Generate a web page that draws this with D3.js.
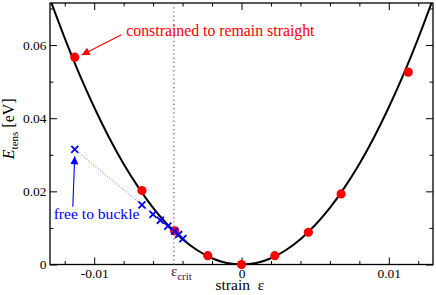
<!DOCTYPE html>
<html>
<head>
<meta charset="utf-8">
<script src="https://cdn.jsdelivr.net/npm/d3@7"></script>
<style>
  body { margin: 0; background: #fff; overflow: hidden; }
  svg { display: block; }
  text { font-family: "Liberation Serif", "Times New Roman", serif; }
</style>
</head>
<body>
<div class="plot"></div>
<script>
// constrained (red dots)
const strainStraight = [-0.01132, -0.00676, -0.00454, -0.00229, 0, 0.00226, 0.00454, 0.00676, 0.01132];
const energyStraight = [0.0567, 0.0202, 0.0092, 0.0024, 0, 0.0024, 0.0088, 0.0193, 0.0526];
// free to buckle (blue crosses)
const strainBuckle = [-0.01132, -0.00676, -0.00601, -0.00551, -0.00500, -0.00454, -0.00427, -0.00398];
const energyBuckle = [0.0315, 0.0163, 0.0137, 0.0121, 0.0105, 0.0091, 0.0082, 0.0071];
// fitted curve
const strainCurve = [-0.0129, -0.012, -0.011, -0.010, -0.009, -0.008, -0.007, -0.006, -0.005, -0.004, -0.003, -0.002, -0.001, 0,
                     0.001, 0.002, 0.003, 0.004, 0.005, 0.006, 0.007, 0.008, 0.009, 0.010, 0.011, 0.012, 0.0129];
const energyCurve = [0.0715, 0.0619, 0.0520, 0.0430, 0.0348, 0.0275, 0.0211, 0.0155, 0.0108, 0.0069, 0.0039, 0.0017, 0.0004, 0,
                     0.0004, 0.0017, 0.0039, 0.0069, 0.0108, 0.0155, 0.0211, 0.0275, 0.0348, 0.0430, 0.0520, 0.0619, 0.0715];
const strainCrit = -0.00459;
const xTicks = [-0.01, 0, 0.01];
const xMinor = [-0.012, -0.008, -0.006, -0.004, -0.002, 0.002, 0.004, 0.006, 0.008, 0.012];
const yTicks = [0, 0.02, 0.04, 0.06];
const yMinor = [0.01, 0.03, 0.05, 0.07];

const width = 436, height = 295,
    margin = {top: 3, right: 3, bottom: 30.5, left: 50},
    innerWidth = width - margin.left - margin.right,
    innerHeight = height - margin.top - margin.bottom;

const svg = d3.select(".plot").append("svg")
    .attr("width", width)
    .attr("height", height)
    .append("g")
    .attr("transform", "translate(" + margin.left + "," + margin.top + ")");

const xScale = d3.scaleLinear().domain([-0.013, 0.013]).range([0, innerWidth]);
const yScale = d3.scaleLinear().domain([0, 0.0715]).range([innerHeight, 0]);

const defs = svg.append("defs");
defs.append("clipPath").attr("id", "clip")
    .append("rect").attr("width", innerWidth).attr("height", innerHeight);
[["arrRed", "#ff0000"], ["arrBlue", "#0000ff"]].forEach(function(m) {
    defs.append("marker")
        .attr("id", m[0])
        .attr("viewBox", "0 0 10 10")
        .attr("refX", 10).attr("refY", 5)
        .attr("markerWidth", 10).attr("markerHeight", 8)
        .attr("markerUnits", "userSpaceOnUse")
        .attr("orient", "auto")
        .append("path").attr("d", "M0,0L10,5L0,10z").attr("fill", m[1]);
});

function fmt(d) { return d === 0 ? "0" : String(d); }

// axes: ticks inward on all four sides
const axes = [
    {g: d3.axisBottom(xScale), t: "translate(0," + innerHeight + ")", maj: xTicks, min: xMinor, lab: "x"},
    {g: d3.axisTop(xScale), t: "translate(0,0)", maj: xTicks, min: xMinor, lab: null},
    {g: d3.axisLeft(yScale), t: "translate(0,0)", maj: yTicks, min: yMinor, lab: "y"},
    {g: d3.axisRight(yScale), t: "translate(" + innerWidth + ",0)", maj: yTicks, min: yMinor, lab: null}
];
axes.forEach(function(a) {
    const gMin = svg.append("g").attr("transform", a.t)
        .call(a.g.tickValues(a.min).tickSize(-3.5).tickFormat(""));
    gMin.select(".domain").remove();
    gMin.selectAll("text").remove();
    const gMaj = svg.append("g").attr("transform", a.t)
        .call(a.g.tickValues(a.maj).tickSize(-7).tickPadding(a.lab === "x" ? 6 : 3.5)
            .tickFormat(fmt));
    gMaj.select(".domain").remove();
    if (!a.lab) gMaj.selectAll("text").remove();
    gMaj.selectAll("text")
        .style("font-family", "Liberation Serif").style("font-size", "13.5px")
        .attr("fill", "#000");
    if (a.lab === "x") gMaj.selectAll("text").attr("dy", "0.55em");
    svg.selectAll(".tick line").attr("stroke", "#000").attr("stroke-width", 1);
});

// frame
svg.append("rect")
    .attr("width", innerWidth).attr("height", innerHeight)
    .attr("fill", "none").attr("stroke", "#000").attr("stroke-width", 1.3);

// eps_crit dotted line
svg.append("line")
    .attr("x1", xScale(strainCrit)).attr("x2", xScale(strainCrit))
    .attr("y1", 0).attr("y2", innerHeight)
    .attr("stroke", "#a03088").attr("stroke-width", 1.2)
    .attr("stroke-dasharray", "1.2,3");

// fitted parabola
svg.append("path")
    .datum(strainCurve.map(function(d, i) { return [d, energyCurve[i]]; }))
    .attr("clip-path", "url(#clip)")
    .attr("fill", "none").attr("stroke", "#000").attr("stroke-width", 2)
    .attr("d", d3.line()
        .x(function(d) { return xScale(d[0]); })
        .y(function(d) { return yScale(d[1]); })
        .curve(d3.curveNatural));

// buckle dotted line + crosses
const buckle = strainBuckle.map(function(d, i) { return [d, energyBuckle[i]]; });
svg.append("path")
    .datum(buckle)
    .attr("fill", "none").attr("stroke", "#4060ff").attr("stroke-width", 1)
    .attr("stroke-dasharray", "1,2")
    .attr("d", d3.line()
        .x(function(d) { return xScale(d[0]); })
        .y(function(d) { return yScale(d[1]); }));

// red dots
svg.append("g").selectAll("circle")
    .data(strainStraight.map(function(d, i) { return [d, energyStraight[i]]; }))
    .enter().append("circle")
    .attr("cx", function(d) { return xScale(d[0]); })
    .attr("cy", function(d) { return yScale(d[1]); })
    .attr("r", 4.6)
    .attr("fill", "#ff0000");

svg.append("g").selectAll("path")
    .data(buckle)
    .enter().append("path")
    .attr("transform", function(d) { return "translate(" + xScale(d[0]) + "," + yScale(d[1]) + ")"; })
    .attr("d", "M-3.5,-3.5L3.5,3.5M-3.5,3.5L3.5,-3.5")
    .attr("stroke", "#0000ff").attr("stroke-width", 1.8)
    .attr("fill", "none");

// annotations
svg.append("text")
    .attr("x", xScale(-0.00782)).attr("y", yScale(0.0625))
    .attr("fill", "#ff0000").style("font-size", "15.8px")
    .text("constrained to remain straight");
svg.append("line")
    .attr("x1", xScale(-0.00815)).attr("y1", yScale(0.0628))
    .attr("x2", xScale(-0.01085)).attr("y2", yScale(0.0573))
    .attr("stroke", "#ff0000").attr("stroke-width", 1.1)
    .attr("marker-end", "url(#arrRed)");

svg.append("text")
    .attr("x", xScale(-0.01275)).attr("y", yScale(0.0124))
    .attr("fill", "#0000ff").style("font-size", "15.6px")
    .text("free to buckle");
svg.append("line")
    .attr("x1", xScale(-0.01145)).attr("y1", yScale(0.0158))
    .attr("x2", xScale(-0.01132)).attr("y2", yScale(0.0296))
    .attr("stroke", "#0000ff").attr("stroke-width", 1.1)
    .attr("marker-end", "url(#arrBlue)");

// eps_crit label
const crit = svg.append("text")
    .attr("x", xScale(strainCrit) - 3).attr("y", innerHeight + 11)
    .attr("fill", "#5a0a4e").style("font-size", "15px");
crit.append("tspan").text("ε");
crit.append("tspan").attr("dy", 4).style("font-size", "11px").text("crit");

// axis titles
svg.append("text")
    .attr("x", xScale(0) - 26).attr("y", innerHeight + 25.5)
    .attr("fill", "#000").style("font-size", "15.5px")
    .attr("xml:space", "preserve")
    .text("strain  ε");

const yt = svg.append("text")
    .attr("transform", "translate(-36," + (innerHeight / 2 - 5) + ") rotate(-90)")
    .attr("text-anchor", "middle")
    .attr("fill", "#000").style("font-size", "16px");
yt.append("tspan").style("font-style", "italic").text("E");
yt.append("tspan").attr("dy", 4).style("font-size", "11px").text("tens");
yt.append("tspan").attr("dy", -4).text(" [eV]");
</script>
</body>
</html>
